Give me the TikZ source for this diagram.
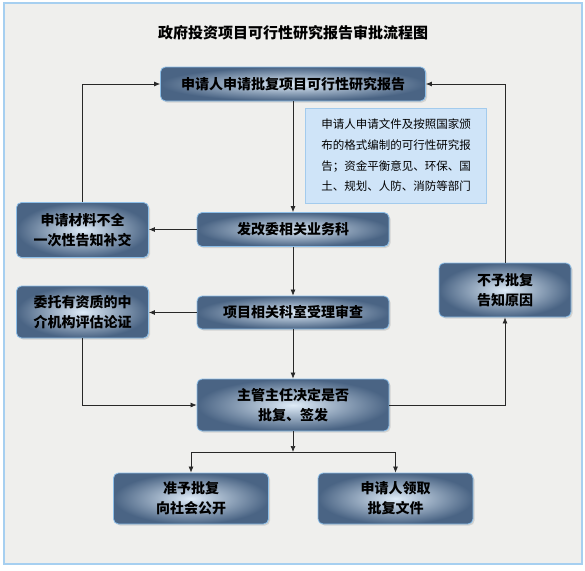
\documentclass[tikz,border=0pt]{standalone}
\usepackage{fontspec}
\setmainfont{Noto Sans CJK SC}
\usepackage{tikz}
\usetikzlibrary{arrows.meta, shadows, positioning}
\definecolor{FlowPaper}{RGB}{239, 239, 237}
\definecolor{FlowFrame}{RGB}{166, 207, 240}
\definecolor{FlowDark}{RGB}{74, 100, 132}
\definecolor{FlowLight}{RGB}{222, 235, 247}
\definecolor{FlowEdge}{RGB}{140, 190, 232}
\definecolor{FlowNote}{RGB}{207, 228, 248}
\definecolor{FlowLine}{RGB}{40, 40, 40}

\begin{document}
\begin{tikzpicture}[x=1pt, y=-1pt,
    stepbox/.style={draw=FlowEdge, line width=0.8pt, rounded corners=5pt,
        inner color=FlowLight, outer color=FlowDark,
        drop shadow={shadow xshift=1.5pt, shadow yshift=-1.5pt, opacity=0.25},
        align=center, font=\bfseries\fontsize{14}{20}\selectfont},
    notebox/.style={draw=FlowEdge!80, fill=FlowNote, line width=0.6pt,
        align=left, inner sep=0pt, font=\fontsize{11.5}{20.7}\selectfont},
    flow/.style={draw=FlowLine, line width=0.7pt, -{Latex[length=6pt, width=5pt]}}]

    % --- Paper ---
    \useasboundingbox (0, 0) rectangle (585, 570);
    \draw[fill=FlowPaper, draw=FlowFrame, line width=1.2pt] (4, 3) rectangle (582, 564);

    % --- Title ---
    \node[font=\bfseries\fontsize{15}{15}\selectfont] (title) at (293, 33) {政府投资项目可行性研究报告审批流程图};

    % --- Main column ---
    \node[stepbox, minimum width=265, minimum height=34] (b1) at (293, 84) {申请人申请批复项目可行性研究报告};
    \node[stepbox, minimum width=192, minimum height=34] (b2) at (293, 229.5) {发改委相关业务科};
    \node[stepbox, minimum width=192, minimum height=33] (b3) at (293, 312.5) {项目相关科室受理审查};
    \node[stepbox, minimum width=192, minimum height=52] (b4) at (293, 405) {主管主任决定是否\\批复、签发};

    % Note on the documents
    \node[notebox, minimum width=181, minimum height=95] (n1) at (396, 155.5)
        {申请人申请文件及按照国家颁\\布的格式编制的可行性研究报\\告；资金平衡意见、环保、国\\土、规划、人防、消防等部门};

    % --- Side boxes ---
    \node[stepbox, minimum width=132, minimum height=55] (l1) at (82.5, 230) {申请材料不全\\一次性告知补交};
    \node[stepbox, minimum width=132, minimum height=52] (l2) at (82.5, 312) {委托有资质的中\\介机构评估论证};
    \node[stepbox, minimum width=132, minimum height=54] (r1) at (505, 290) {不予批复\\告知原因};

    % --- Results ---
    \node[stepbox, minimum width=155, minimum height=51] (e1) at (191, 498.5) {准予批复\\向社会公开};
    \node[stepbox, minimum width=155, minimum height=51] (e2) at (395.5, 498.5) {申请人领取\\批复文件};
    \coordinate (fork) at (293, 452);

    % --- Connectors ---
    \draw[flow] (b1) -- (b2);
    \draw[flow] (b2) -- (b3);
    \draw[flow] (b3) -- (b4);
    \draw[flow] (b2.west) -- (b2.west -| l1.east);
    \draw[flow] (b3.west) -- (b3.west -| l2.east);
    \draw[flow] (l1.north) |- (b1.west);
    \draw[flow] (l2.south) |- (b4.west);
    \draw[flow] (b4.east) -| (r1.south);
    \draw[flow] (r1.north) |- (b1.east);
    \draw[flow] (b4) -- (fork);
    \draw[flow] (fork) -| (e1.north);
    \draw[flow] (fork) -| (e2.north);

\end{tikzpicture}
\end{document}
